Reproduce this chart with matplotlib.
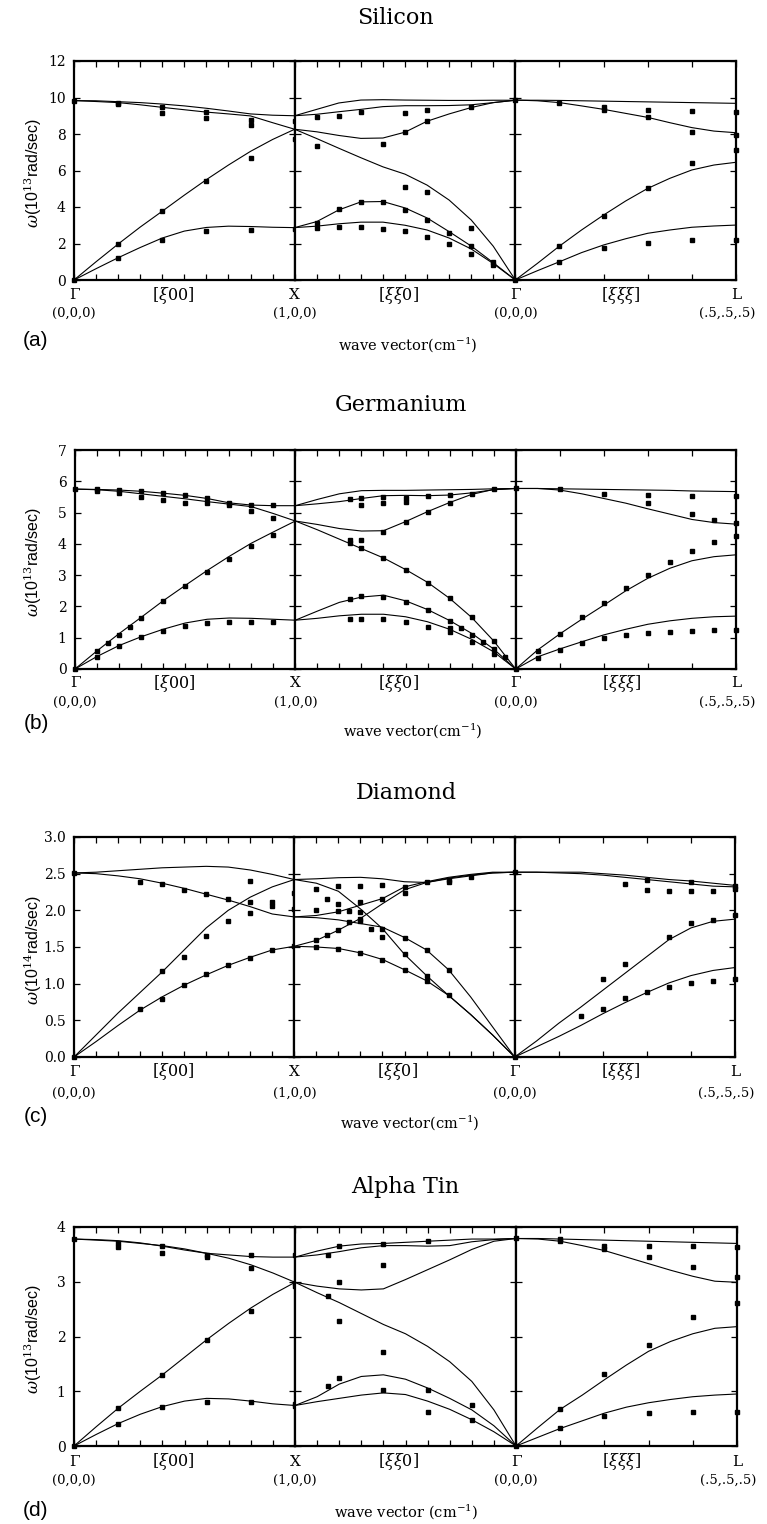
import matplotlib
matplotlib.use("Agg")
import matplotlib.pyplot as plt
from matplotlib.ticker import FormatStrFormatter

plt.rcParams['mathtext.fontset'] = 'dejavuserif'

# ---------------- data ----------------
XI = [0.0, 0.1, 0.2, 0.3, 0.4, 0.5, 0.6, 0.7, 0.8, 0.9, 1.0]          # Gamma-X and X-Gamma
XI_L = [0.0, 0.05, 0.1, 0.15, 0.2, 0.25, 0.3, 0.35, 0.4, 0.45, 0.5]   # Gamma-L

# Silicon
si_gx_lines = [
    [9.83, 9.82, 9.77, 9.72, 9.64, 9.54, 9.41, 9.26, 9.10, 9.03, 9.00],
    [9.83, 9.78, 9.72, 9.60, 9.46, 9.33, 9.20, 9.10, 8.99, 8.62, 8.26],
    [0, 1.00, 1.97, 2.90, 3.77, 4.65, 5.50, 6.30, 7.05, 7.70, 8.26],
    [0, 0.62, 1.22, 1.78, 2.30, 2.68, 2.88, 2.95, 2.93, 2.89, 2.87],
]
si_xg_lines = [
    [9.00, 9.35, 9.70, 9.86, 9.88, 9.86, 9.85, 9.84, 9.84, 9.85, 9.85],
    [9.00, 9.08, 9.22, 9.35, 9.50, 9.55, 9.55, 9.56, 9.60, 9.72, 9.85],
    [8.26, 8.12, 7.92, 7.76, 7.78, 8.10, 8.70, 9.10, 9.45, 9.72, 9.85],
    [8.26, 7.75, 7.22, 6.70, 6.20, 5.80, 5.20, 4.38, 3.29, 1.85, 0],
    [2.87, 3.20, 3.84, 4.28, 4.30, 3.95, 3.40, 2.65, 1.86, 0.95, 0],
    [2.87, 2.95, 3.08, 3.17, 3.17, 3.00, 2.74, 2.30, 1.70, 0.90, 0],
]
si_gl_lines = [
    [9.85, 9.85, 9.84, 9.82, 9.80, 9.78, 9.76, 9.74, 9.72, 9.70, 9.68],
    [9.86, 9.82, 9.72, 9.54, 9.35, 9.13, 8.91, 8.62, 8.35, 8.16, 8.07],
    [0, 0.91, 1.86, 2.74, 3.56, 4.33, 5.02, 5.57, 6.03, 6.30, 6.45],
    [0, 0.51, 1.00, 1.50, 1.92, 2.26, 2.56, 2.74, 2.89, 2.96, 3.01],
]
si_gx_pts = [(0.0, [9.8, 0]), (0.2, [9.7, 9.62, 1.95, 1.22]), (0.4, [9.5, 9.17, 3.76, 2.2]),
             (0.6, [9.2, 8.88, 5.42, 2.7]), (0.8, [8.79, 8.49, 6.67, 2.76]), (1.0, [8.73, 7.71, 2.78])]
si_xg_pts = [(0.1, [8.91, 7.34, 3.14, 2.83]), (0.2, [9.0, 3.87, 2.92]), (0.3, [9.22, 4.29, 2.89]),
             (0.4, [7.45, 4.26, 2.81]), (0.5, [9.13, 8.13, 5.08, 3.84, 2.68]),
             (0.6, [9.32, 8.73, 4.82, 3.29, 2.37]), (0.7, [2.59, 1.95]),
             (0.8, [9.46, 2.87, 1.86, 1.42]), (0.9, [1.0, 0.82])]
si_gl_pts = [(0.0, [9.86, 0]), (0.1, [9.72, 1.86, 1.0]), (0.2, [9.46, 9.32, 3.51, 1.74]),
             (0.3, [9.32, 8.91, 5.06, 2.05]), (0.4, [9.28, 8.13, 6.39, 2.19]),
             (0.5, [9.22, 7.96, 7.12, 2.19])]

# Germanium
ge_gx_lines = [
    [5.75, 5.74, 5.72, 5.68, 5.62, 5.55, 5.45, 5.31, 5.24, 5.22, 5.22],
    [5.75, 5.73, 5.68, 5.60, 5.52, 5.44, 5.35, 5.27, 5.19, 4.97, 4.73],
    [0, 0.58, 1.13, 1.65, 2.18, 2.67, 3.15, 3.60, 4.02, 4.38, 4.73],
    [0, 0.40, 0.75, 1.03, 1.27, 1.47, 1.59, 1.63, 1.62, 1.59, 1.56],
]
ge_xg_lines = [
    [5.22, 5.42, 5.60, 5.70, 5.71, 5.71, 5.72, 5.73, 5.74, 5.76, 5.77],
    [5.22, 5.28, 5.35, 5.45, 5.54, 5.55, 5.54, 5.56, 5.63, 5.73, 5.77],
    [4.73, 4.62, 4.49, 4.41, 4.42, 4.71, 5.03, 5.32, 5.58, 5.74, 5.77],
    [4.73, 4.45, 4.15, 3.85, 3.55, 3.18, 2.77, 2.26, 1.65, 0.90, 0],
    [1.56, 1.85, 2.13, 2.30, 2.36, 2.18, 1.90, 1.55, 1.14, 0.64, 0],
    [1.56, 1.62, 1.70, 1.75, 1.75, 1.67, 1.51, 1.27, 0.95, 0.55, 0],
]
ge_gl_lines = [
    [5.77, 5.77, 5.76, 5.75, 5.74, 5.73, 5.72, 5.71, 5.69, 5.68, 5.67],
    [5.77, 5.77, 5.72, 5.60, 5.45, 5.30, 5.12, 4.95, 4.78, 4.68, 4.63],
    [0, 0.61, 1.12, 1.59, 2.04, 2.50, 2.90, 3.22, 3.46, 3.59, 3.65],
    [0, 0.39, 0.64, 0.87, 1.09, 1.27, 1.43, 1.54, 1.62, 1.67, 1.69],
]
ge_gx_pts = [(0.0, [5.75, 0]), (0.1, [5.75, 5.69, 0.58, 0.37]), (0.15, [0.83]),
             (0.2, [5.73, 5.63, 1.1, 0.75]), (0.25, [1.35]), (0.3, [5.69, 5.51, 1.62, 1.03]),
             (0.4, [5.64, 5.4, 2.18, 1.22]), (0.5, [5.56, 5.31, 2.65, 1.38]),
             (0.6, [5.45, 5.32, 3.09, 1.48]), (0.7, [5.29, 5.24, 3.51, 1.51]),
             (0.8, [5.24, 5.04, 3.94, 1.51]), (0.9, [5.24, 4.83, 4.28, 1.51])]
ge_xg_pts = [(0.25, [5.44, 4.12, 4.04, 2.24, 1.61]), (0.3, [5.48, 5.24, 4.12, 3.88, 2.34, 1.61]),
             (0.4, [5.51, 5.31, 4.39, 3.54, 2.31, 1.59]), (0.5, [5.48, 5.35, 4.71, 3.16, 2.15, 1.49]),
             (0.6, [5.53, 5.03, 2.76, 1.89, 1.35]), (0.7, [5.56, 5.31, 2.26, 1.55, 1.32, 1.19]),
             (0.75, [1.32]), (0.8, [5.59, 1.65, 1.09, 0.85]), (0.85, [0.87]),
             (0.9, [5.74, 0.91, 0.63, 0.48]), (0.95, [0.37])]
ge_gl_pts = [(0.0, [5.77, 0]), (0.05, [0.59, 0.34]), (0.1, [5.74, 1.12, 0.61]), (0.15, [1.65, 0.82]),
             (0.2, [5.59, 2.12, 0.98]), (0.25, [2.58, 1.08]), (0.3, [5.56, 5.31, 3.02, 1.14]),
             (0.35, [3.43, 1.19]), (0.4, [5.53, 4.95, 3.77, 1.22]), (0.45, [4.76, 4.05, 1.25]),
             (0.5, [5.53, 4.68, 4.25, 1.25])]

# Diamond
c_gx_lines = [
    [2.51, 2.52, 2.54, 2.56, 2.58, 2.59, 2.60, 2.59, 2.55, 2.49, 2.42],
    [2.51, 2.50, 2.47, 2.43, 2.37, 2.30, 2.22, 2.14, 2.05, 1.95, 1.91],
    [0, 0.30, 0.60, 0.88, 1.16, 1.46, 1.76, 2.00, 2.18, 2.32, 2.42],
    [0, 0.21, 0.43, 0.64, 0.82, 0.98, 1.12, 1.25, 1.36, 1.46, 1.51],
]
c_xg_lines = [
    [2.42, 2.43, 2.445, 2.45, 2.43, 2.39, 2.38, 2.43, 2.47, 2.51, 2.52],
    [2.42, 2.37, 2.26, 2.02, 1.75, 1.40, 1.11, 0.84, 0.58, 0.30, 0],
    [1.91, 1.93, 1.98, 2.07, 2.16, 2.32, 2.39, 2.45, 2.49, 2.52, 2.52],
    [1.91, 1.90, 1.87, 1.82, 1.77, 1.63, 1.46, 1.19, 0.82, 0.41, 0],
    [1.51, 1.59, 1.73, 1.89, 2.09, 2.28, 2.38, 2.44, 2.48, 2.51, 2.52],
    [1.51, 1.50, 1.48, 1.42, 1.33, 1.19, 1.04, 0.84, 0.58, 0.30, 0],
]
c_gl_lines = [
    [2.52, 2.52, 2.52, 2.52, 2.50, 2.48, 2.45, 2.42, 2.40, 2.37, 2.34],
    [2.52, 2.52, 2.51, 2.50, 2.48, 2.45, 2.42, 2.39, 2.36, 2.33, 2.32],
    [0, 0.22, 0.46, 0.68, 0.91, 1.14, 1.37, 1.60, 1.76, 1.85, 1.88],
    [0, 0.14, 0.28, 0.43, 0.59, 0.74, 0.88, 1.01, 1.11, 1.18, 1.22],
]
c_gx_pts = [(0.0, [2.51, 0]), (0.3, [2.39, 0.65]), (0.4, [2.36, 1.17, 0.79]),
            (0.5, [2.28, 1.37, 0.98]), (0.6, [2.22, 1.65, 1.13]), (0.7, [2.16, 1.85, 1.25]),
            (0.8, [2.4, 2.11, 1.97, 1.35]), (0.9, [2.12, 2.06, 1.46]), (1.0, [2.23, 2.02, 1.51])]
c_xg_pts = [(0.1, [2.29, 2.01, 1.6, 1.5]), (0.15, [2.16, 1.67]), (0.2, [2.33, 2.08, 1.99, 1.73, 1.47]),
            (0.25, [1.99, 1.84]), (0.3, [2.33, 2.12, 1.98, 1.88, 1.86, 1.42]), (0.35, [1.75]),
            (0.4, [2.35, 2.16, 1.75, 1.63, 1.32]), (0.5, [2.32, 2.23, 1.62, 1.4, 1.19]),
            (0.6, [2.39, 1.46, 1.1, 1.03]), (0.7, [2.42, 2.38, 1.19, 0.85]), (0.8, [2.46])]
c_gl_pts = [(0.0, [2.52, 0]), (0.15, [0.56]), (0.2, [1.06, 0.66]), (0.25, [2.36, 1.27, 0.81]),
            (0.3, [2.41, 2.28, 0.89]), (0.35, [2.27, 1.63, 0.96]), (0.4, [2.38, 2.27, 1.83, 1.01]),
            (0.45, [2.27, 1.87, 1.04]), (0.5, [2.33, 2.29, 1.94, 1.06])]

# Alpha tin
sn_gx_lines = [
    [3.78, 3.77, 3.75, 3.71, 3.65, 3.58, 3.52, 3.49, 3.46, 3.45, 3.45],
    [3.78, 3.76, 3.74, 3.70, 3.66, 3.60, 3.52, 3.43, 3.31, 3.16, 2.99],
    [0, 0.35, 0.69, 1.00, 1.30, 1.62, 1.94, 2.24, 2.52, 2.77, 2.99],
    [0, 0.21, 0.41, 0.58, 0.72, 0.82, 0.87, 0.86, 0.82, 0.77, 0.74],
]
sn_xg_lines = [
    [3.45, 3.56, 3.65, 3.69, 3.70, 3.72, 3.74, 3.76, 3.78, 3.78, 3.79],
    [3.45, 3.49, 3.55, 3.62, 3.66, 3.66, 3.65, 3.66, 3.73, 3.77, 3.79],
    [2.99, 2.92, 2.87, 2.85, 2.87, 3.04, 3.22, 3.40, 3.59, 3.74, 3.79],
    [2.99, 2.80, 2.62, 2.42, 2.22, 2.05, 1.82, 1.54, 1.18, 0.66, 0],
    [0.74, 0.90, 1.13, 1.27, 1.30, 1.22, 1.06, 0.87, 0.66, 0.37, 0],
    [0.74, 0.81, 0.87, 0.93, 0.97, 0.94, 0.82, 0.67, 0.48, 0.26, 0],
]
sn_gl_lines = [
    [3.79, 3.79, 3.78, 3.77, 3.76, 3.75, 3.74, 3.73, 3.72, 3.71, 3.70],
    [3.79, 3.78, 3.74, 3.66, 3.57, 3.45, 3.33, 3.21, 3.10, 3.01, 2.99],
    [0, 0.34, 0.67, 0.93, 1.21, 1.48, 1.73, 1.91, 2.05, 2.15, 2.18],
    [0, 0.16, 0.32, 0.46, 0.60, 0.71, 0.79, 0.85, 0.90, 0.93, 0.95],
]
sn_gx_pts = [(0.0, [3.78, 0]), (0.2, [3.71, 3.63, 0.69, 0.4]), (0.4, [3.66, 3.52, 1.29, 0.72]),
             (0.6, [3.49, 3.46, 1.93, 0.81]), (0.8, [3.49, 3.25, 2.47, 0.81]),
             (1.0, [3.48, 2.98, 2.93, 0.77, 0.73])]
sn_xg_pts = [(0.15, [3.49, 2.74, 1.1]), (0.2, [3.65, 2.99, 2.29, 1.24]), (0.4, [3.69, 3.3, 1.72, 1.02]),
             (0.6, [3.74, 1.02, 0.63]), (0.8, [0.75, 0.48])]
sn_gl_pts = [(0.0, [3.79, 0]), (0.1, [3.78, 3.74, 0.67, 0.32]), (0.2, [3.66, 3.6, 1.32, 0.54]),
             (0.3, [3.65, 3.46, 1.84, 0.6]), (0.4, [3.65, 3.27, 2.35, 0.63]),
             (0.5, [3.63, 3.09, 2.62, 0.63])]

titles = ["Silicon", "Germanium", "Diamond", "Alpha Tin"]
tags = ["(a)", "(b)", "(c)", "(d)"]
y_exponents = ["13", "13", "14", "13"]
y_max = [12, 7, 3.0, 4]
y_step = [2, 1, 0.5, 1]
point_labels = ["(0,0,0)", "(1,0,0)", "(0,0,0)", "(.5,.5,.5)"]
xlabels = ["wave vector(cm$^{-1}$)", "wave vector(cm$^{-1}$)",
           "wave vector(cm$^{-1}$)", "wave vector (cm$^{-1}$)"]

# ---------------- layout (pixels) ----------------
W, H = 767, 1524
fig = plt.figure(figsize=(W / 100, H / 100), dpi=100)
fig.patch.set_facecolor("white")

def fx(px):
    return px / W

def fy(py):
    return 1 - py / H

layout = [
    dict(left=74, right=736, top=61, bottom=280, title_y=18, title_x=395, sym_y=295, coord_y=313, tag_y=340, wv_y=345, wv_x=408),
    dict(left=75, right=736, top=450, bottom=669, title_y=405, title_x=401, sym_y=683, coord_y=702, tag_y=723, wv_y=731, wv_x=413),
    dict(left=74, right=735, top=837, bottom=1057, title_y=793, title_x=406, sym_y=1072, coord_y=1093, tag_y=1117, wv_y=1123, wv_x=410),
    dict(left=74, right=737, top=1227, bottom=1446, title_y=1187, title_x=405, sym_y=1462, coord_y=1480, tag_y=1510, wv_y=1512, wv_x=406),
]

all_lines = [(si_gx_lines, si_xg_lines, si_gl_lines), (ge_gx_lines, ge_xg_lines, ge_gl_lines),
             (c_gx_lines, c_xg_lines, c_gl_lines), (sn_gx_lines, sn_xg_lines, sn_gl_lines)]
all_pts = [(si_gx_pts, si_xg_pts, si_gl_pts), (ge_gx_pts, ge_xg_pts, ge_gl_pts),
           (c_gx_pts, c_xg_pts, c_gl_pts), (sn_gx_pts, sn_xg_pts, sn_gl_pts)]

serif = "DejaVu Serif"

for p in range(4):
    L = layout[p]
    width = L["right"] - L["left"]
    h = L["bottom"] - L["top"]
    nsteps = int(round(y_max[p] / y_step[p]))
    yt = [i * y_step[p] for i in range(nsteps + 1)]
    bounds = []
    for k in range(3):
        x0 = L["left"] + k * width / 3
        bounds.append(x0)
        ax = fig.add_axes([fx(x0), fy(L["bottom"]), width / 3 / W, h / H])
        xs = XI if k < 2 else XI_L
        for ys in all_lines[p][k]:
            ax.plot(xs, ys, color="black", lw=0.8, solid_capstyle="round")
        for xv, yv in all_pts[p][k]:
            ax.plot([xv] * len(yv), yv, "s", ms=3.2, color="black", clip_on=False, zorder=5)
        xmax = 1.0 if k < 2 else 0.5
        ax.set_xlim(0, xmax)
        ax.set_ylim(0, y_max[p])
        ax.set_xticks([i / 10 for i in range(int(round(xmax * 10)) + 1)])
        ax.set_yticks(yt)
        ax.tick_params(axis="both", direction="in", top=True, right=True, length=4, width=0.9,
                       labelbottom=False)
        ax.tick_params(axis="y", pad=6, labelsize=10)
        if k == 0:
            if p == 2:
                ax.yaxis.set_major_formatter(FormatStrFormatter("%.1f"))
            else:
                ax.yaxis.set_major_formatter(FormatStrFormatter("%d"))
            for t in ax.get_yticklabels():
                t.set_family(serif)
        else:
            ax.tick_params(axis="y", labelleft=False)
        for s in ax.spines.values():
            s.set_linewidth(1.6)
    bounds.append(L["right"])

    # symmetry point labels
    syms = ["Γ", "X", "Γ", "L"]
    for i, sname in enumerate(syms):
        fig.text(fx(bounds[i]), fy(L["sym_y"]), sname, ha="center", va="center",
                 family=serif, fontsize=11)
        cx = bounds[i] if i < 3 else bounds[i] - 9
        fig.text(fx(cx), fy(L["coord_y"]), point_labels[i], ha="center", va="center",
                 family=serif, fontsize=9.5)
    # direction labels
    fig.text(fx(bounds[0] + 0.45 * width / 3), fy(L["sym_y"]), r"[$\xi$00]", ha="center",
             va="center", family=serif, fontsize=11.5)
    fig.text(fx(bounds[1] + 0.47 * width / 3), fy(L["sym_y"]), r"[$\xi\xi$0]", ha="center",
             va="center", family=serif, fontsize=11.5)
    fig.text(fx(bounds[2] + 0.48 * width / 3), fy(L["sym_y"]), r"[$\xi\xi\xi$]", ha="center",
             va="center", family=serif, fontsize=11.5)

    # title, tag, axis labels
    fig.text(fx(L["title_x"]), fy(L["title_y"]), titles[p], ha="center", va="center",
             family=serif, fontsize=16)
    fig.text(fx(36), fy(L["tag_y"]), tags[p], ha="center", va="center",
             family="Liberation Sans", fontsize=15)
    fig.text(fx(L["wv_x"]), fy(L["wv_y"]), xlabels[p], ha="center", va="center",
             family=serif, fontsize=10.5)
    fig.text(fx(33), fy((L["top"] + L["bottom"]) / 2 + 3),
             r"$\omega$(10$^{" + y_exponents[p] + r"}$rad/sec)", rotation=90,
             ha="center", va="center", family="Liberation Sans", fontsize=11.5)

fig.savefig("out.png", dpi=100, facecolor="white")
